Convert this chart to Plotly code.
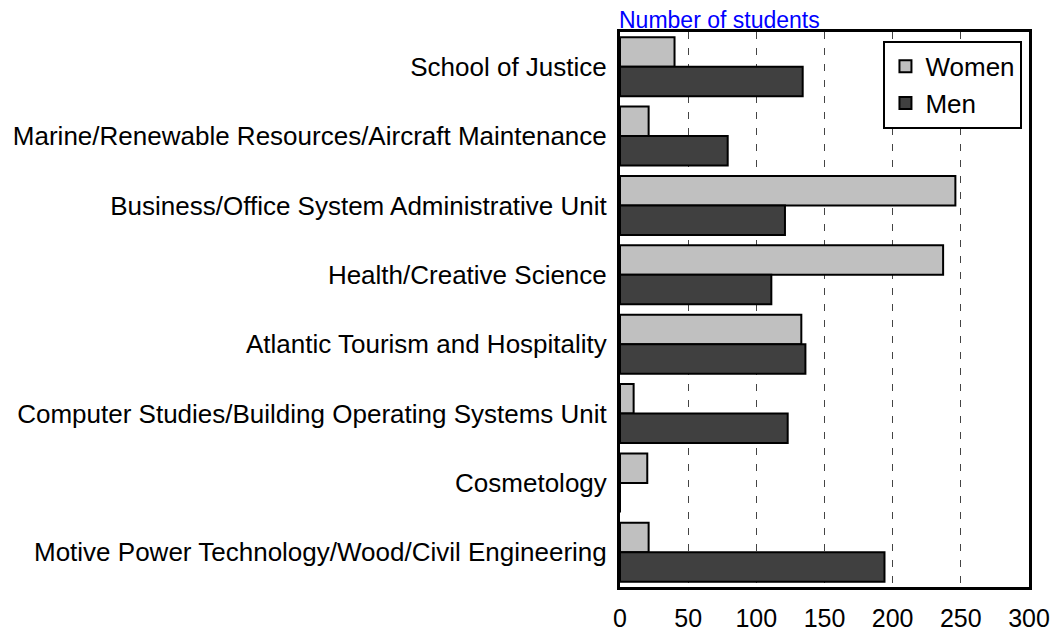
import plotly.graph_objects as go

categories = [
    "School of Justice",
    "Marine/Renewable Resources/Aircraft Maintenance",
    "Business/Office System Administrative Unit",
    "Health/Creative Science",
    "Atlantic Tourism and Hospitality",
    "Computer Studies/Building Operating Systems Unit",
    "Cosmetology",
    "Motive Power Technology/Wood/Civil Engineering",
]
women = [40, 21, 246, 237, 133, 10, 20, 21]
men = [134, 79, 121, 111, 136, 123, 0, 194]
x_ticks = [0, 50, 100, 150, 200, 250, 300]

FONT = "Liberation Sans, Arial, Helvetica, sans-serif"

fig = go.Figure()
fig.add_trace(go.Bar(
    y=categories, x=women, orientation="h", name="Women",
    marker=dict(color="#c0c0c0", line=dict(color="black", width=2)),
))
fig.add_trace(go.Bar(
    y=categories, x=men, orientation="h", name="Men",
    marker=dict(color="#404040", line=dict(color="black", width=2)),
))

fig.update_layout(
    width=1056, height=631,
    margin=dict(l=620, r=27, t=32, b=44, autoexpand=False),
    paper_bgcolor="white", plot_bgcolor="white",
    barmode="group", bargap=0.15, bargroupgap=0,
    font=dict(family=FONT, color="black", size=25),
    showlegend=True,
    legend=dict(
        x=0.984, y=0.984, xanchor="right", yanchor="top",
        bgcolor="white", bordercolor="black", borderwidth=2,
        font=dict(size=26, family=FONT),
        tracegroupgap=0, itemsizing="constant",
    ),
    xaxis=dict(
        range=[0, 300], tickvals=x_ticks, ticktext=[str(v) for v in x_ticks],
        showgrid=True, gridcolor="#444444", gridwidth=1, griddash="7px,9px",
        zeroline=False, showline=True, linecolor="black", linewidth=3, mirror=True,
        ticks="", ticklabelstandoff=7, tickfont=dict(size=25), automargin=False,
    ),
    yaxis=dict(
        autorange="reversed", showgrid=False, zeroline=False,
        showline=True, linecolor="black", linewidth=3, mirror=True,
        ticks="", ticklabelstandoff=5, tickfont=dict(size=26), automargin=False,
    ),
)

fig.add_annotation(
    text="Number of students", xref="paper", yref="paper",
    x=0, y=1, xanchor="left", yanchor="bottom", xshift=-3, yshift=-3,
    showarrow=False, font=dict(size=23, color="#0000ff", family=FONT),
)

fig.write_html("out.html", config={"displayModeBar": False},
               post_script="document.body.style.margin='0';")
